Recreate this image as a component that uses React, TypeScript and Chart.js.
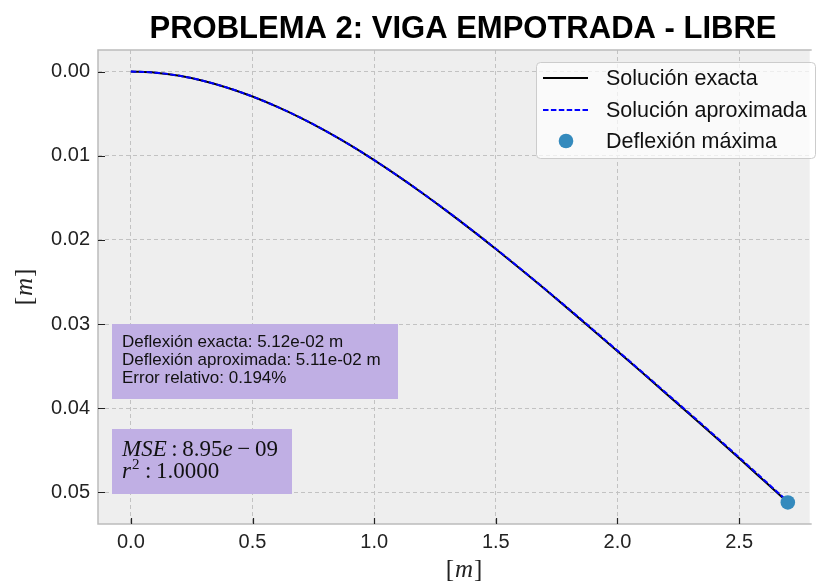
import React, { useEffect, useRef } from 'react';
import { Chart, registerables } from 'chart.js';

Chart.register(...registerables);

const xValues = [0, 0.1, 0.2, 0.3, 0.4, 0.5, 0.6, 0.7, 0.8, 0.9, 1.0, 1.1, 1.2, 1.3, 1.4, 1.5, 1.6, 1.7, 1.8, 1.9, 2.0, 2.1, 2.2, 2.3, 2.4, 2.5, 2.6, 2.7];
const exactDeflection = [0, 0.00013, 0.00051, 0.00112, 0.00195, 0.00297, 0.00417, 0.00553, 0.00705, 0.00872, 0.01053, 0.01246, 0.01449, 0.01661, 0.01881, 0.02109, 0.02343, 0.02582, 0.02826, 0.03073, 0.03323, 0.03574, 0.03827, 0.04081, 0.04337, 0.04595, 0.04857, 0.0512];
const approxDeflection = [0, 0.00013, 0.00051, 0.00112, 0.00195, 0.00297, 0.00417, 0.00552, 0.00704, 0.00871, 0.01052, 0.01245, 0.01447, 0.01659, 0.01879, 0.02106, 0.02339, 0.02578, 0.02821, 0.03067, 0.03316, 0.03567, 0.03819, 0.04072, 0.04327, 0.04585, 0.04846, 0.0511];
const maxPointX = [2.7];
const maxPointY = [0.0512];

const xTicks = [0, 0.5, 1.0, 1.5, 2.0, 2.5];
const xTickLabels = ['0.0', '0.5', '1.0', '1.5', '2.0', '2.5'];
const yTicks = [0, 0.01, 0.02, 0.03, 0.04, 0.05];
const yTickLabels = ['0.00', '0.01', '0.02', '0.03', '0.04', '0.05'];

const titleText = 'PROBLEMA 2: VIGA EMPOTRADA - LIBRE';
const legendLabels = ['Solución exacta', 'Solución aproximada', 'Deflexión máxima'];
const infoLines = ['Deflexión exacta: 5.12e-02 m', 'Deflexión aproximada: 5.11e-02 m', 'Error relativo: 0.194%'];
const mseParts: [string, boolean][] = [['MSE', true], ['\u2009:\u2009', false], ['8.95', false], ['e', true], ['\u2009\u2212\u2009', false], ['09', false]];
const r2Value = '1.0000';

const SANS = '"Liberation Sans", Arial, sans-serif';
const SERIF = '"Liberation Serif", "DejaVu Serif", serif';
const BOX_FILL = '#c0afe4';

function drawRich(ctx: CanvasRenderingContext2D, parts: [string, boolean][], x: number, y: number, size: number) {
  let cx = x;
  for (const [t, it] of parts) {
    ctx.font = `${it ? 'italic ' : ''}${size}px ${SERIF}`;
    ctx.fillText(t, cx, y);
    cx += ctx.measureText(t).width;
  }
  return cx;
}

function drawMLabel(ctx: CanvasRenderingContext2D, cx: number, cy: number, size: number) {
  ctx.font = `${size}px ${SERIF}`;
  const wb = ctx.measureText('[').width;
  const wb2 = ctx.measureText(']').width;
  ctx.font = `italic ${size}px ${SERIF}`;
  const wm = ctx.measureText('m').width;
  const total = wb + wm + wb2 + 2;
  let x = cx - total / 2;
  ctx.textBaseline = 'middle';
  ctx.font = `${size}px ${SERIF}`;
  ctx.fillText('[', x, cy);
  x += wb + 1;
  ctx.font = `italic ${size}px ${SERIF}`;
  ctx.fillText('m', x, cy);
  x += wm + 1;
  ctx.font = `${size}px ${SERIF}`;
  ctx.fillText(']', x, cy);
}

const decorPlugin = {
  id: 'decor',
  beforeDraw(chart: any) {
    const { ctx, chartArea: a } = chart;
    ctx.save();
    ctx.fillStyle = '#eeeeee';
    ctx.fillRect(a.left, a.top, a.right - a.left, a.bottom - a.top);
    ctx.restore();
  },
  beforeDatasetsDraw(chart: any) {
    const { ctx, chartArea: a, scales } = chart;
    ctx.save();
    ctx.strokeStyle = '#bcbcbc';
    ctx.lineWidth = 1.5;
    ctx.beginPath();
    ctx.moveTo(a.right + 2, a.top);
    ctx.lineTo(a.left, a.top);
    ctx.lineTo(a.left, a.bottom);
    ctx.lineTo(a.right + 2, a.bottom);
    ctx.stroke();
    ctx.strokeStyle = '#222222';
    ctx.lineWidth = 1.2;
    ctx.beginPath();
    for (const v of xTicks) {
      const px = Math.round(scales.x.getPixelForValue(v)) + 0.5;
      ctx.moveTo(px, a.bottom);
      ctx.lineTo(px, a.bottom - 6);
    }
    for (const v of yTicks) {
      const py = Math.round(scales.y.getPixelForValue(v)) + 0.5;
      ctx.moveTo(a.left, py);
      ctx.lineTo(a.left + 7, py);
    }
    ctx.stroke();
    ctx.restore();
  },
  afterDraw(chart: any) {
    const { ctx } = chart;
    ctx.save();
    ctx.fillStyle = '#000';
    ctx.font = `bold 31px ${SANS}`;
    ctx.textAlign = 'center';
    ctx.textBaseline = 'alphabetic';
    ctx.fillText(titleText, 463, 38);

    ctx.textAlign = 'left';
    ctx.fillStyle = '#222';
    drawMLabel(ctx, 464, 570, 25);
    ctx.save();
    ctx.translate(25, 287);
    ctx.rotate(-Math.PI / 2);
    drawMLabel(ctx, 0, 0, 25);
    ctx.restore();

    ctx.fillStyle = BOX_FILL;
    ctx.fillRect(112, 324, 286, 75);
    ctx.fillStyle = '#111';
    ctx.font = `17px ${SANS}`;
    ctx.textBaseline = 'alphabetic';
    ctx.textAlign = 'left';
    infoLines.forEach((t, i) => ctx.fillText(t, 122, 347 + i * 18));

    ctx.fillStyle = BOX_FILL;
    ctx.fillRect(112, 429, 180, 65);
    ctx.fillStyle = '#111';
    drawRich(ctx, mseParts, 122, 456, 23);
    let cx = drawRich(ctx, [['r', true]], 122, 478, 23);
    ctx.font = `15px ${SERIF}`;
    ctx.fillText('2', cx + 1, 469);
    cx += ctx.measureText('2').width + 2;
    drawRich(ctx, [['\u2009:\u2009', false], [r2Value, false]], cx, 478, 23);

    const lx = 536, ly = 62, lw = 279, lh = 96;
    ctx.fillStyle = 'rgba(255,255,255,0.7)';
    ctx.strokeStyle = '#cccccc';
    ctx.lineWidth = 1;
    ctx.beginPath();
    ctx.roundRect(lx + 0.5, ly + 0.5, lw, lh, 4);
    ctx.fill();
    ctx.stroke();
    const rows = [78, 110, 141];
    ctx.lineWidth = 2;
    ctx.strokeStyle = '#000';
    ctx.beginPath();
    ctx.moveTo(543, rows[0]);
    ctx.lineTo(588, rows[0]);
    ctx.stroke();
    ctx.strokeStyle = '#0000ff';
    ctx.lineWidth = 2;
    ctx.setLineDash([5.5, 2.4]);
    ctx.beginPath();
    ctx.moveTo(543, rows[1]);
    ctx.lineTo(588, rows[1]);
    ctx.stroke();
    ctx.setLineDash([]);
    ctx.fillStyle = '#348ABD';
    ctx.beginPath();
    ctx.arc(566, rows[2], 7.3, 0, Math.PI * 2);
    ctx.fill();
    ctx.fillStyle = '#111';
    ctx.font = `21.5px ${SANS}`;
    ctx.textBaseline = 'middle';
    legendLabels.forEach((t, i) => ctx.fillText(t, 606, rows[i] + 1));
    ctx.restore();
  },
};

export default function App() {
  const ref = useRef<HTMLCanvasElement | null>(null);
  useEffect(() => {
    if (!ref.current) return;
    const chart = new Chart(ref.current, {
      type: 'scatter',
      data: {
        datasets: [
          {
            label: legendLabels[2],
            data: maxPointX.map((x, i) => ({ x, y: maxPointY[i] })),
            showLine: false,
            pointRadius: 7.3,
            pointBackgroundColor: '#348ABD',
            pointBorderWidth: 0,
            order: 0,
          },
          {
            label: legendLabels[1],
            data: xValues.map((x, i) => ({ x, y: approxDeflection[i] })),
            showLine: true,
            borderColor: '#0000ff',
            borderWidth: 2,
            borderDash: [5.5, 2.4],
            pointRadius: 0,
            cubicInterpolationMode: 'monotone',
            order: 1,
          },
          {
            label: legendLabels[0],
            data: xValues.map((x, i) => ({ x, y: exactDeflection[i] })),
            showLine: true,
            borderColor: '#000000',
            borderWidth: 2,
            pointRadius: 0,
            cubicInterpolationMode: 'monotone',
            order: 2,
          },
        ] as any,
      },
      options: {
        responsive: false,
        animation: false,
        layout: { padding: { top: 50, left: 0, right: 0, bottom: 0 } },
        plugins: { legend: { display: false }, tooltip: { enabled: false }, title: { display: false } },
        scales: {
          x: {
            type: 'linear',
            min: -0.135,
            max: 2.79,
            afterBuildTicks: (s: any) => { s.ticks = xTicks.map((v) => ({ value: v })); },
            afterFit: (s: any) => { s.height = 63; },
            ticks: {
              callback: (_v: any, i: number) => xTickLabels[i],
              font: { family: SANS, size: 20 },
              color: '#222',
              padding: 6,
              maxRotation: 0,
              autoSkip: false,
            },
            grid: { color: '#c2c2c2', lineWidth: 1, drawTicks: false },
            border: { display: false, dash: [4, 3] },
          },
          y: {
            type: 'linear',
            reverse: true,
            min: -0.00256,
            max: 0.05376,
            afterBuildTicks: (s: any) => { s.ticks = yTicks.map((v) => ({ value: v })); },
            afterFit: (s: any) => { s.width = 98; },
            ticks: {
              callback: (_v: any, i: number) => yTickLabels[i],
              font: { family: SANS, size: 20 },
              color: '#222',
              padding: 8,
              autoSkip: false,
            },
            grid: { color: '#c2c2c2', lineWidth: 1, drawTicks: false },
            border: { display: false, dash: [4, 3] },
          },
        },
      } as any,
      plugins: [decorPlugin],
    });
    return () => chart.destroy();
  }, []);
  return (
    <canvas
      ref={ref}
      width={817}
      height={587}
      style={{ position: 'fixed', left: 0, top: 0, width: 817, height: 587 }}
    />
  );
}
